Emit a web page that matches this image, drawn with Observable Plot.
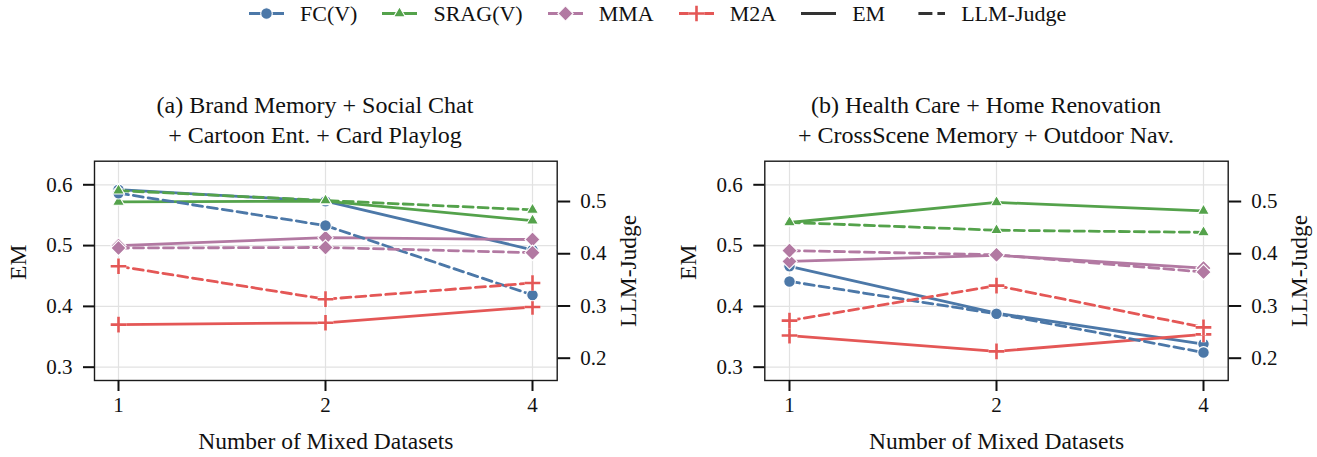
<!DOCTYPE html>
<html><head><meta charset="utf-8">
<script src="https://cdn.jsdelivr.net/npm/d3@7"></script>
<script src="https://cdn.jsdelivr.net/npm/@observablehq/plot@0.6"></script>
<style>
body{margin:0;background:#fff;}
#root{position:relative;width:1317px;height:457px;font-family:"Liberation Serif","DejaVu Serif",serif;color:#111;overflow:hidden;}
.title{position:absolute;top:90px;font-size:24px;line-height:30px;text-align:center;white-space:nowrap;transform:translateX(-50%);}
.legend{position:absolute;top:0;left:249px;height:27px;display:flex;align-items:center;font-size:22px;white-space:nowrap;}
.legend .item{display:flex;align-items:center;margin-right:25px;}
.legend svg{display:block;margin-right:16px;}
.panel{position:absolute;top:150px;}
</style></head><body><div id="root"></div>
<script>
// ---- data ----
const xLabels = ["1", "2", "4"];
const methods = ["FC(V)", "SRAG(V)", "MMA", "M2A"];
const metrics = ["EM", "LLM-Judge"];
const colors = ["#4c78a8", "#54a24b", "#b279a2", "#e45756"];
const symbols = ["circle", "triangle", "diamond2", "plus"];
const titleA = ["(a) Brand Memory + Social Chat", "+ Cartoon Ent. + Card Playlog"];
const titleB = ["(b) Health Care + Home Renovation", "+ CrossScene Memory + Outdoor Nav."];
const xLabel = "Number of Mixed Datasets";
const emTicks = [0.3, 0.4, 0.5, 0.6];
const llmTicks = [0.2, 0.3, 0.4, 0.5];

// panel (a): EM (left axis)
const fcA_em   = [0.592, 0.573, 0.493];
const sragA_em = [0.572, 0.573, 0.541];
const mmaA_em  = [0.500, 0.513, 0.510];
const m2aA_em  = [0.370, 0.373, 0.399];
// panel (a): LLM-Judge (right axis)
const fcA_llm   = [0.516, 0.454, 0.321];
const sragA_llm = [0.521, 0.502, 0.484];
const mmaA_llm  = [0.411, 0.412, 0.402];
const m2aA_llm  = [0.376, 0.313, 0.344];
// panel (b): EM
const fcB_em   = [0.466, 0.389, 0.338];
const sragB_em = [0.538, 0.571, 0.557];
const mmaB_em  = [0.474, 0.484, 0.463];
const m2aB_em  = [0.352, 0.326, 0.354];
// panel (b): LLM-Judge
const fcB_llm   = [0.347, 0.285, 0.211];
const sragB_llm = [0.460, 0.445, 0.441];
const mmaB_llm  = [0.406, 0.398, 0.365];
const m2aB_llm  = [0.272, 0.339, 0.259];

// ---- scales (twin axes) ----
const emDomain = [0.2781, 0.6388];
const llmDomain = [0.1573, 0.5772];
const toEM = L => emDomain[0] + (L - llmDomain[0]) / (llmDomain[1] - llmDomain[0]) * (emDomain[1] - emDomain[0]);
const fromEM = E => llmDomain[0] + (E - emDomain[0]) / (emDomain[1] - emDomain[0]) * (llmDomain[1] - llmDomain[0]);

function rowsFor(emSeries, llmSeries) {
  const rows = [];
  methods.forEach((m, i) => {
    xLabels.forEach((x, j) => {
      rows.push({method: m, metric: "EM", x, value: emSeries[i][j], y: emSeries[i][j]});
      rows.push({method: m, metric: "LLM-Judge", x, value: llmSeries[i][j], y: toEM(llmSeries[i][j])});
    });
  });
  return rows;
}
const rowsA = rowsFor([fcA_em, sragA_em, mmaA_em, m2aA_em], [fcA_llm, sragA_llm, mmaA_llm, m2aA_llm]);
const rowsB = rowsFor([fcB_em, sragB_em, mmaB_em, m2aB_em], [fcB_llm, sragB_llm, mmaB_llm, m2aB_llm]);

const markerR = [5.8, 4.4, 6.9, 5.1];
const FONT = '"Liberation Serif","DejaVu Serif",serif';
const LW = 2.8;

function seriesMarks(rows) {
  const marks = [];
  metrics.forEach(metric => {
    methods.forEach((m, i) => {
      const d = rows.filter(r => r.method === m && r.metric === metric);
      marks.push(Plot.line(d, {x: "x", y: "y", stroke: colors[i], strokeWidth: LW,
        strokeDasharray: metric === "EM" ? null : "10,5", strokeLinejoin: "round"}));
      if (symbols[i] === "plus") {
        marks.push(Plot.dot(d, {x: "x", y: "y", symbol: "plus", r: markerR[i], fill: "none", stroke: "white", strokeWidth: 5.2}));
        marks.push(Plot.dot(d, {x: "x", y: "y", symbol: "plus", r: markerR[i], fill: "none", stroke: colors[i], strokeWidth: 2.6}));
      } else {
        marks.push(Plot.dot(d, {x: "x", y: "y", symbol: symbols[i], r: markerR[i], fill: colors[i], stroke: "white", strokeWidth: 1.1}));
      }
    });
  });
  return marks;
}

function chart(rows, width, mL, mR) {
  return Plot.plot({
    width, height: 307,
    marginLeft: mL, marginRight: mR, marginTop: 10.7, marginBottom: 77,
    style: {fontFamily: FONT, fontSize: "21px", color: "#111", background: "transparent"},
    x: {type: "point", domain: xLabels, padding: 0.1174},
    y: {domain: emDomain},
    marks: [
      Plot.gridY(emTicks, {stroke: "#e2e2e2", strokeOpacity: 1, strokeWidth: 1.2}),
      Plot.gridX(xLabels, {stroke: "#e2e2e2", strokeOpacity: 1, strokeWidth: 1.2}),
      ...seriesMarks(rows),
      Plot.frame({stroke: "#1a1a1a", strokeWidth: 1.4}),
      Plot.axisY(emTicks, {anchor: "left", label: null, tickSize: 11, tickPadding: 11, strokeWidth: 2, tickFormat: d => d.toFixed(1)}),
      Plot.axisY(llmTicks.map(toEM), {anchor: "right", label: null, tickSize: 12.5, tickPadding: 10.5, strokeWidth: 2, tickFormat: d => fromEM(d).toFixed(1)}),
      Plot.axisX(xLabels, {anchor: "bottom", label: null, tickSize: 11, tickPadding: 6, strokeWidth: 2}),
      Plot.text(["EM"], {frameAnchor: "left", textAnchor: "middle", lineAnchor: "middle", dx: -76, dy: -8.5, rotate: -90, fontSize: 23.5, fill: "#111"}),
      Plot.text(["LLM-Judge"], {frameAnchor: "right", textAnchor: "middle", lineAnchor: "middle", dx: 71, rotate: -90, fontSize: 23.5, fill: "#111"}),
      Plot.text([xLabel], {frameAnchor: "bottom", textAnchor: "middle", lineAnchor: "middle", dy: 61, fontSize: 23.5, fill: "#111"})
    ]
  });
}

const root = document.getElementById("root");

// legend
const legend = document.createElement("div");
legend.className = "legend";
root.appendChild(legend);
const symTypes = {circle: d3.symbolCircle, triangle: d3.symbolTriangle, diamond2: d3.symbolDiamond2, plus: d3.symbolPlus};
methods.forEach((m, i) => {
  const item = d3.select(legend).append("div").attr("class", "item");
  const svg = item.append("svg").attr("width", 35).attr("height", 27);
  svg.append("line").attr("x1", 0).attr("x2", 35).attr("y1", 13.5).attr("y2", 13.5).attr("stroke", colors[i]).attr("stroke-width", LW);
  const path = d3.symbol(symTypes[symbols[i]], Math.PI * markerR[i] * markerR[i])();
  if (symbols[i] === "plus") {
    svg.append("path").attr("d", path).attr("transform", "translate(17.5,13.5)").attr("fill", "none").attr("stroke", "white").attr("stroke-width", 5.2);
    svg.append("path").attr("d", path).attr("transform", "translate(17.5,13.5)").attr("fill", "none").attr("stroke", colors[i]).attr("stroke-width", 2.6);
  } else {
    svg.append("path").attr("d", path).attr("transform", "translate(17.5,13.5)").attr("fill", colors[i]).attr("stroke", "white").attr("stroke-width", 1.1);
  }
  item.append("span").text(m);
});
metrics.forEach((metric, k) => {
  const item = d3.select(legend).append("div").attr("class", "item");
  const svg = item.append("svg").attr("width", 35).attr("height", 27);
  svg.append("line").attr("x1", k ? 8.4 : 0).attr("x2", 35).attr("y1", 13.5).attr("y2", 13.5)
    .attr("stroke", "#333").attr("stroke-width", LW).attr("stroke-dasharray", k ? "14,5" : null);
  item.append("span").text(metric);
});

// titles
function addTitle(lines, cx) {
  const t = document.createElement("div");
  t.className = "title";
  t.style.left = cx + "px";
  t.innerHTML = lines.map(l => `<div>${l}</div>`).join("");
  root.appendChild(t);
}
addTitle(titleA, 315);
addTitle(titleB, 986);

// panels
const pA = chart(rowsA, 660, 94, 103.3);
pA.classList.add("panel"); pA.style.left = "0px";
root.appendChild(pA);
const pB = chart(rowsB, 657, 104.3, 89.3);
pB.classList.add("panel"); pB.style.left = "660px";
root.appendChild(pB);
</script>
</body></html>
